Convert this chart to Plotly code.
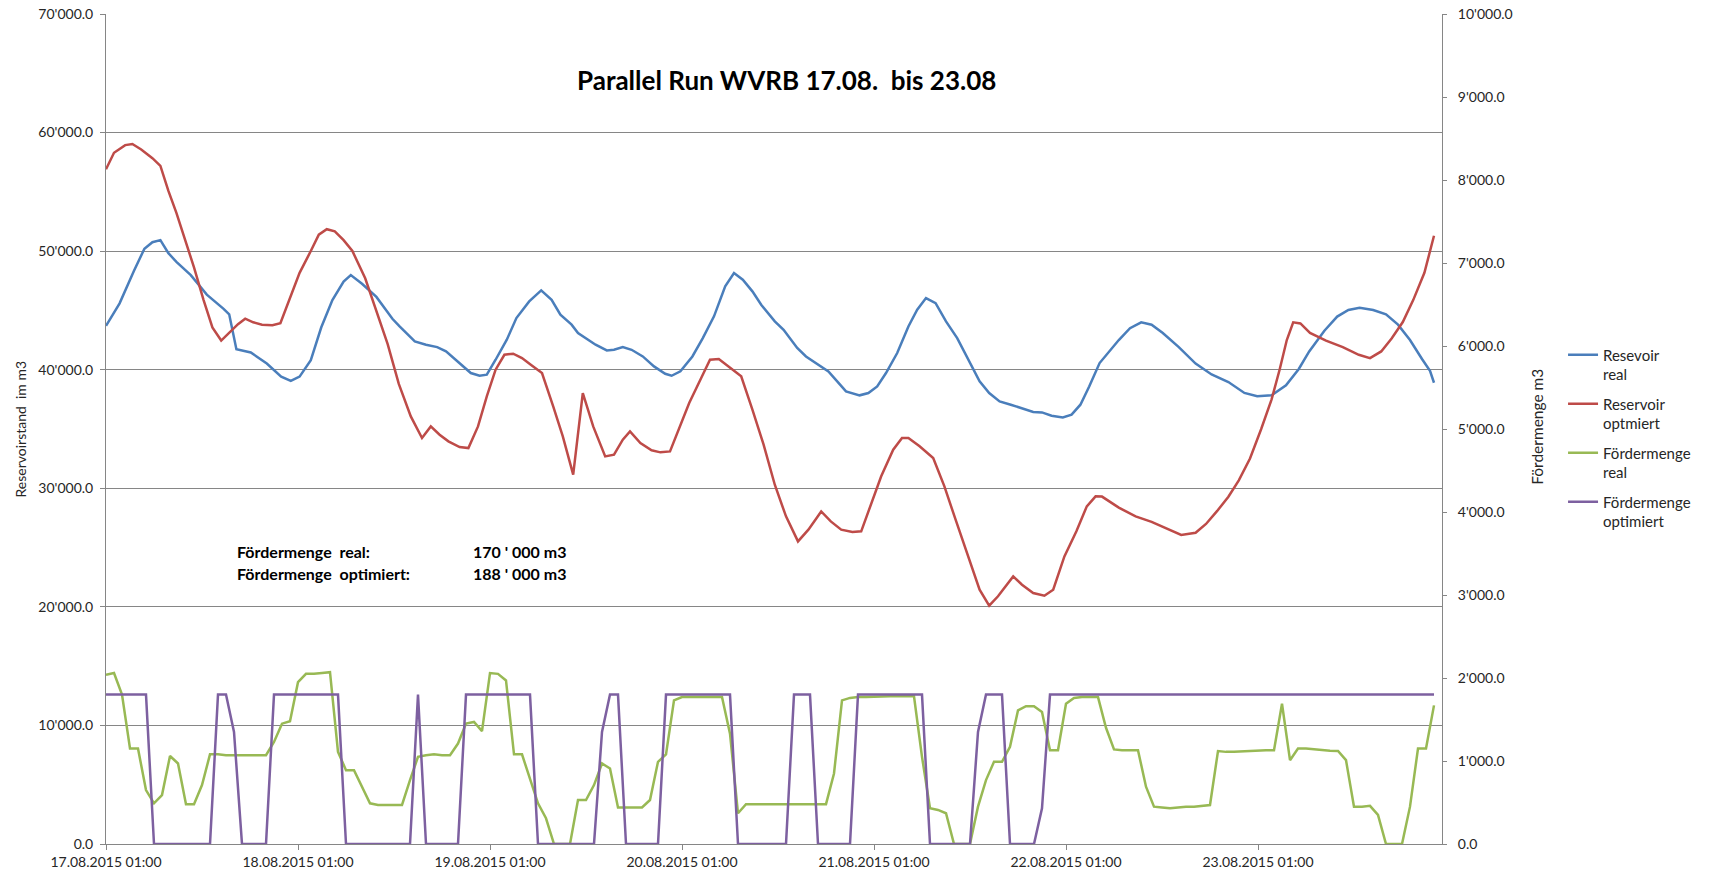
import plotly.graph_objects as go

# ---------------- data ----------------
day_tick_hours = [0, 24, 48, 72, 96, 120, 144]
day_tick_labels = ["17.08.2015 01:00", "18.08.2015 01:00", "19.08.2015 01:00",
                   "20.08.2015 01:00", "21.08.2015 01:00", "22.08.2015 01:00",
                   "23.08.2015 01:00"]

# Resevoir real (left axis), hours since 17.08.2015 01:00
blue_hours = [0, 1.7, 3.5, 4.8, 5.8, 6.8, 7.8, 8.8, 10.6, 12.6, 14.7, 15.4, 16.3, 18.1,
              20.1, 21.9, 23.1, 24.2, 25.6, 26.9, 28.3, 29.7, 30.6, 32.0, 33.8, 35.8,
              36.7, 38.6, 40.0, 41.4, 42.5, 44.0, 45.6, 46.7, 47.6, 48.7, 50.1, 51.3,
              52.9, 54.4, 55.7, 56.8, 58.2, 59.0, 60.1, 61.2, 62.6, 63.5, 64.6, 65.7,
              67.1, 68.5, 69.9, 70.7, 71.8, 73.3, 74.6, 76.0, 77.4, 78.5, 79.6, 80.8,
              81.9, 83.6, 84.7, 86.4, 87.5, 89.1, 90.3, 91.4, 92.5, 94.2, 95.3, 96.4,
              97.5, 98.9, 100.3, 101.4, 102.5, 103.7, 105.0, 106.4, 107.8, 109.2, 110.4,
              111.7, 113.1, 114.5, 115.9, 117.0, 118.2, 119.6, 120.7, 121.8, 122.9,
              124.2, 126.6, 128.0, 129.4, 130.7, 132.1, 134.1, 136.2, 138.2, 140.3,
              142.3, 143.9, 145.7, 147.5, 149.1, 150.4, 152.3, 153.9, 155.3, 156.7,
              158.4, 160.0, 161.5, 163.0, 164.5, 165.5, 166.0]
blue_values = [43700, 45600, 48350, 50200, 50750, 50930, 49830, 49090, 47980, 46330, 45130,
               44670, 41720, 41450, 40520, 39420, 39050, 39420, 40800, 43560, 45870, 47430,
               47980, 47250, 46140, 44300, 43650, 42390, 42110, 41910, 41550, 40700, 39720,
               39490, 39580, 40840, 42530, 44360, 45760, 46690, 45900, 44640, 43800, 43090,
               42590, 42110, 41630, 41680, 41910, 41680, 41120, 40280, 39660, 39490, 39860,
               41120, 42670, 44500, 47030, 48150, 47590, 46610, 45480, 44080, 43370, 41830,
               41120, 40420, 39860, 39020, 38170, 37840, 38030, 38590, 39720, 41410, 43650,
               45060, 46040, 45620, 44080, 42670, 40840, 39020, 38030, 37330, 37050, 36710,
               36430, 36400, 36120, 35980, 36210, 37050, 38590, 40560, 42500, 43500, 44000,
               43800, 43100, 41900, 40520, 39600, 38960, 38040, 37760, 37850, 38680, 40060,
               41540, 43290, 44480, 45040, 45220, 45040, 44670, 43800, 42500, 40900, 39900,
               38900]

# Reservoir optmiert (left axis)
red_hours = [0, 1.0, 2.4, 3.3, 4.4, 5.8, 6.8, 7.8, 8.8, 9.9, 11.0, 12.2, 13.3, 14.4, 15.4,
             16.5, 17.4, 18.4, 19.5, 20.8, 21.8, 22.9, 24.2, 25.6, 26.6, 27.6, 28.6, 29.7,
             30.8, 32.4, 33.8, 35.2, 36.6, 38.1, 39.5, 40.6, 41.7, 42.8, 44.2, 45.3, 46.5,
             47.6, 48.7, 49.8, 50.9, 52.0, 53.1, 54.5, 55.9, 57.1, 58.4, 59.6, 60.9, 62.4,
             63.5, 64.6, 65.5, 66.8, 68.2, 69.3, 70.5, 71.6, 72.9, 74.4, 75.5, 76.6, 78.0,
             79.4, 80.8, 82.2, 83.6, 85.0, 86.5, 87.8, 89.4, 90.6, 91.9, 93.3, 94.4, 95.6,
             96.9, 98.4, 99.5, 100.3, 101.7, 103.4, 104.8, 106.2, 107.6, 109.2, 110.4,
             111.5, 113.4, 114.5, 115.9, 117.3, 118.4, 119.8, 121.3, 122.6, 123.7, 124.5,
             126.6, 128.7, 130.7, 132.8, 134.4, 136.2, 137.5, 138.9, 140.3, 141.6, 143.0,
             144.4, 145.7, 146.7, 147.6, 148.4, 149.3, 150.5, 152.5, 154.6, 156.6, 158.0,
             159.4, 160.7, 162.1, 163.4, 164.8, 166.0]
red_values = [56900, 58300, 58940, 59040, 58580, 57840, 57190, 55080, 53230, 50930, 48630,
              45870, 43560, 42460, 43100, 43840, 44300, 44000, 43800, 43750, 43930, 45870,
              48170, 50010, 51390, 51850, 51670, 50930, 50010, 47710, 44940, 42180, 38800,
              36060, 34240, 35220, 34520, 33960, 33480, 33390, 35220, 37750, 40000, 41260,
              41350, 40980, 40420, 39720, 36910, 34380, 31150, 38030, 35220, 32690, 32830,
              34100, 34800, 33820, 33200, 33030, 33110, 34940, 37190, 39300, 40840, 40900,
              40140, 39440, 36630, 33680, 30300, 27630, 25520, 26510, 28050, 27210, 26510,
              26310, 26370, 28620, 31010, 33250, 34240, 34240, 33540, 32550, 30160, 27350,
              24680, 21450, 20100, 20890, 22570, 21870, 21170, 20940, 21450, 24260, 26370,
              28480, 29320, 29300, 28370, 27630, 27170, 26530, 26060, 26250, 26990, 28090,
              29290, 30670, 32510, 35000, 37500, 40000, 42500, 44000, 43900, 43100, 42460,
              41900, 41260, 40980, 41540, 42640, 44020, 45870, 48170, 51300]

# Hourly series on the right axis
hours = list(range(167))
green_values = [2040, 2060, 1800, 1150, 1150, 650, 490, 590, 1060, 970, 480, 480,
                710, 1080, 1080, 1070, 1070, 1070, 1070, 1070, 1070, 1230, 1450, 1480,
                1950, 2050, 2050, 2060, 2070, 1110, 890, 890, 690, 490, 470, 470,
                470, 470, 770, 1050, 1070, 1080, 1070, 1070, 1210, 1450, 1470, 1360,
                2060, 2050, 1970, 1080, 1080, 790, 490, 310, 0, 0, 0, 530,
                530, 710, 970, 910, 440, 440, 440, 440, 530, 990, 1080, 1730,
                1770, 1770, 1770, 1770, 1770, 1770, 1330, 370, 480, 480, 480, 480,
                480, 480, 480, 480, 480, 480, 480, 850, 1730, 1760, 1770, 1770,
                1775, 1775, 1780, 1780, 1780, 1780, 1050, 430, 410, 370, 0, 0,
                0, 450, 770, 990, 990, 1170, 1610, 1660, 1660, 1590, 1130, 1130,
                1690, 1760, 1770, 1770, 1770, 1400, 1140, 1130, 1130, 1130, 690, 450,
                440, 430, 440, 450, 450, 460, 470, 1120, 1110, 1110, 1115, 1120,
                1130, 1130, 1130, 1690, 1010, 1150, 1150, 1140, 1130, 1125, 1120, 1010,
                450, 450, 460, 350, 0, 0, 0, 450, 1150, 1150, 1670]
purple_values = [1800, 1800, 1800, 1800, 1800, 1800, 0, 0, 0, 0, 0, 0,
                 0, 0, 1800, 1800, 1350, 0, 0, 0, 0, 1800, 1800, 1800,
                 1800, 1800, 1800, 1800, 1800, 1800, 0, 0, 0, 0, 0, 0,
                 0, 0, 0, 1800, 0, 0, 0, 0, 0, 1800, 1800, 1800,
                 1800, 1800, 1800, 1800, 1800, 1800, 0, 0, 0, 0, 0, 0,
                 0, 0, 1350, 1800, 1800, 0, 0, 0, 0, 0, 1800, 1800,
                 1800, 1800, 1800, 1800, 1800, 1800, 1800, 0, 0, 0, 0, 0,
                 0, 0, 1800, 1800, 1800, 0, 0, 0, 0, 0, 1800, 1800,
                 1800, 1800, 1800, 1800, 1800, 1800, 1800, 0, 0, 0, 0, 0,
                 0, 1350, 1800, 1800, 1800, 0, 0, 0, 0, 430, 1800, 1800,
                 1800, 1800, 1800, 1800, 1800, 1800, 1800, 1800, 1800, 1800, 1800, 1800,
                 1800, 1800, 1800, 1800, 1800, 1800, 1800, 1800, 1800, 1800, 1800, 1800,
                 1800, 1800, 1800, 1800, 1800, 1800, 1800, 1800, 1800, 1800, 1800, 1800,
                 1800, 1800, 1800, 1800, 1800, 1800, 1800, 1800, 1800, 1800, 1800]

series_names = ["Resevoir<br>real", "Reservoir<br>optmiert",
                "Fördermenge<br>real", "Fördermenge<br>optimiert"]
series_colors = ["#4A7EBB", "#BE4B48", "#98B954", "#7D60A0"]

summary_labels = ["Fördermenge&nbsp; real:", "Fördermenge&nbsp; optimiert:"]
summary_values = ["170 ' 000 m3", "188 ' 000 m3"]

title_text = "Parallel Run WVRB 17.08.&nbsp; bis 23.08"
left_title = "Reservoirstand&nbsp; im m3"
right_title = "Fördermenge m3"

# ---------------- figure ----------------
FONT = "Lato, 'Open Sans', sans-serif"
GRID = "#868686"
TXT = "#262626"

fig = go.Figure()
fig.add_trace(go.Scatter(x=blue_hours, y=blue_values, name=series_names[0], mode="lines",
                         line=dict(color=series_colors[0], width=2.5), legendgroup="g1"))
fig.add_trace(go.Scatter(x=red_hours, y=red_values, name=series_names[1], mode="lines",
                         line=dict(color=series_colors[1], width=2.5), legendgroup="g2"))
fig.add_trace(go.Scatter(x=hours, y=green_values, name=series_names[2], mode="lines",
                         line=dict(color=series_colors[2], width=2.5), yaxis="y2",
                         legendgroup="g3"))
fig.add_trace(go.Scatter(x=hours, y=purple_values, name=series_names[3], mode="lines",
                         line=dict(color=series_colors[3], width=2.5), yaxis="y2",
                         legendgroup="g4"))

fig.update_layout(
    width=1712, height=876,
    margin=dict(l=106, r=270, t=14, b=32, autoexpand=False),
    paper_bgcolor="white", plot_bgcolor="white",
    separators=".'",
    font=dict(family=FONT, size=14, color=TXT),
    showlegend=True,
    legend=dict(x=1.0906, xanchor="left", y=0.609, yanchor="top",
                font=dict(family=FONT, size=15, color=TXT),
                valign="top", tracegroupgap=7, traceorder="grouped",
                bgcolor="rgba(0,0,0,0)", itemwidth=30),
    xaxis=dict(range=[0, 167], tickmode="array", tickvals=day_tick_hours,
               ticktext=day_tick_labels, showgrid=False, zeroline=False,
               showline=True, linecolor=GRID, linewidth=1, ticks="outside",
               ticklen=5, tickcolor=GRID, tickfont=dict(size=14, color=TXT)),
    yaxis=dict(range=[0, 70000], dtick=10000, tickformat=",.1f", showgrid=True,
               gridcolor=GRID, gridwidth=1, zeroline=False, showline=True,
               linecolor=GRID, linewidth=1, ticks="outside", ticklen=5, tickcolor=GRID,
               tickfont=dict(size=14, color=TXT), ticklabelstandoff=4),
    yaxis2=dict(range=[0, 10000], dtick=1000, tickformat=",.1f", overlaying="y",
                side="right", showgrid=False, zeroline=False, showline=True,
                linecolor=GRID, linewidth=1, ticks="outside", ticklen=4, tickcolor=GRID,
                tickfont=dict(size=14, color=TXT), ticklabelstandoff=8),
)

annotations = [
    dict(text="<b>" + title_text + "</b>", xref="paper", yref="paper", x=0.5097, y=0.9205,
         xanchor="center", yanchor="middle", showarrow=False,
         font=dict(family=FONT, size=26, color="#000000")),
    dict(text=left_title, xref="paper", yref="paper", x=-0.064, y=0.5, textangle=-90,
         xanchor="center", yanchor="middle", showarrow=False,
         font=dict(family=FONT, size=14, color=TXT)),
    dict(text=right_title, xref="paper", yref="paper", x=1.0712, y=0.5028, textangle=-90,
         xanchor="center", yanchor="middle", showarrow=False,
         font=dict(family=FONT, size=15.5, color=TXT)),
]
for i, (lab, val) in enumerate(zip(summary_labels, summary_values)):
    yy = 0.3522 - i * 0.0261
    annotations.append(dict(text="<b>" + lab + "</b>", xref="paper", yref="paper",
                            x=0.0966, y=yy, xanchor="left", yanchor="middle",
                            showarrow=False, font=dict(family=FONT, size=16, color="#000000")))
    annotations.append(dict(text="<b>" + val + "</b>", xref="paper", yref="paper",
                            x=0.2732, y=yy, xanchor="left", yanchor="middle",
                            showarrow=False, font=dict(family=FONT, size=16, color="#000000")))
fig.update_layout(annotations=annotations)

fig.write_html("out.html", config={"displayModeBar": False},
               post_script="document.body.style.margin='0';document.body.style.overflow='hidden';")
